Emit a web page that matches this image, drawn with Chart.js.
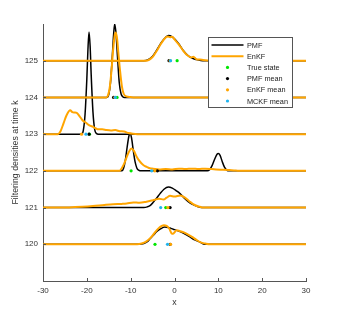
<!DOCTYPE html>
<html>
<head>
<meta charset="utf-8">
<script src="https://cdn.jsdelivr.net/npm/chart.js@4.4.1/dist/chart.umd.min.js"></script>
<style>
  html, body { margin: 0; padding: 0; background: #fff; }
  #chart { display: block; }
</style>
</head>
<body>
<canvas id="chart" width="339" height="316"></canvas>
<script>
// time steps (one ridge per step) and axis ticks
const steps = [125, 124, 123, 122, 121, 120];
const xTicks = [-30, -20, -10, 0, 10, 20, 30];
const yTicks = [120, 121, 122, 123, 124, 125];

// densities: [x, density] pairs, per time step
const pmf125 = [[-30,0],[-7,0],[-6,0.03],[-5,0.12],[-4,0.3],[-3,0.5],[-2,0.64],[-1.4,0.69],[-1,0.68],[0,0.6],[1,0.46],[2,0.28],[3,0.15],[4,0.07],[5,0.03],[6,0.005],[7,0],[30,0]];
const enkf125 = [[-30,0],[-6.5,0],[-5,0.1],[-4,0.28],[-3,0.48],[-2,0.63],[-1.5,0.66],[-1,0.64],[-0.5,0.65],[0,0.58],[1,0.44],[2,0.27],[3,0.14],[3.8,0.09],[4.3,0.11],[5,0.04],[5.8,0.03],[6.5,0.02],[8,0],[30,0]];

const pmf124 = [[-30,0],[-15.5,0],[-15,0.08],[-14.6,0.4],[-14.2,1.1],[-13.9,1.7],[-13.65,2.0],[-13.35,1.75],[-13,1.1],[-12.6,0.4],[-12.2,0.1],[-11.8,0.02],[-11.4,0],[30,0]];
const enkf124 = [[-30,0],[-15.6,0],[-15.2,0.05],[-14.8,0.25],[-14.4,0.7],[-14,1.3],[-13.6,1.72],[-13.4,1.77],[-13.1,1.6],[-12.8,1.2],[-12.4,0.7],[-12,0.3],[-11.6,0.1],[-11,0.03],[-10,0.01],[-9,0],[30,0]];

const pmf123 = [[-30,0],[-21.2,0],[-20.8,0.1],[-20.4,0.55],[-20,1.5],[-19.75,2.3],[-19.5,2.78],[-19.25,2.4],[-19,1.6],[-18.6,0.6],[-18.2,0.12],[-17.8,0.02],[-17.4,0],[30,0]];
const enkf123 = [[-30,0],[-26.6,0],[-26,0.08],[-25.3,0.3],[-24.6,0.52],[-23.8,0.65],[-23.3,0.6],[-22.8,0.59],[-22.3,0.58],[-21.6,0.48],[-21,0.38],[-20.4,0.33],[-19.8,0.27],[-19.3,0.23],[-18.6,0.2],[-18,0.16],[-17.4,0.13],[-16.5,0.13],[-15.5,0.11],[-14.5,0.1],[-13.5,0.11],[-12.5,0.08],[-11.5,0.07],[-10.5,0.03],[-9.5,0.01],[-8.5,0],[30,0]];

const pmf122 = [[-30,0],[-12,0],[-11.6,0.08],[-11.2,0.3],[-10.8,0.65],[-10.4,0.95],[-10.15,1.02],[-9.8,0.9],[-9.4,0.55],[-9,0.25],[-8.6,0.08],[-8.2,0.02],[-7.5,0],[7.5,0],[8,0.03],[8.6,0.15],[9.2,0.33],[9.7,0.45],[10,0.47],[10.4,0.42],[10.9,0.25],[11.4,0.1],[11.9,0.02],[12.5,0],[30,0]];
const enkf122 = [[-30,0],[-12.6,0],[-11.8,0.12],[-11.2,0.28],[-10.9,0.38],[-10.4,0.52],[-9.8,0.61],[-9.3,0.55],[-8.6,0.38],[-8,0.27],[-7.5,0.2],[-6.9,0.14],[-6.35,0.11],[-5.6,0.07],[-4.9,0.06],[-3.5,0.04],[-2,0.05],[-0.5,0.04],[1,0.06],[2.5,0.05],[4,0.06],[5.5,0.05],[7,0.06],[8.5,0.05],[9.5,0.04],[11,0.03],[12.5,0.02],[14,0.01],[15,0],[30,0]];

const pmf121 = [[-30,0],[-7,0],[-6.2,0.02],[-5.5,0.06],[-4.8,0.15],[-4,0.27],[-3.3,0.38],[-2.4,0.5],[-1.4,0.56],[-0.5,0.53],[0.5,0.45],[1.25,0.38],[2.3,0.25],[3.5,0.13],[4.6,0.06],[5.8,0.01],[6.5,0],[30,0]];
const enkf121 = [[-30,0],[-24,0.005],[-21,0.02],[-18.6,0.04],[-16,0.07],[-14,0.09],[-12,0.1],[-10.9,0.11],[-9.4,0.14],[-8,0.13],[-6.4,0.16],[-4.9,0.2],[-3.5,0.24],[-2.5,0.22],[-1.8,0.27],[-1,0.32],[0,0.3],[1.3,0.33],[2.3,0.28],[3.5,0.16],[4.6,0.07],[5.8,0.02],[6.6,0],[30,0]];

const pmf120 = [[-30,0],[-8,0],[-7,0.02],[-6.2,0.07],[-5.6,0.15],[-4.8,0.25],[-4.1,0.34],[-3.2,0.42],[-2.2,0.47],[-1.3,0.45],[-0.3,0.41],[0.5,0.38],[1.5,0.33],[2.5,0.27],[3.5,0.2],[4.6,0.12],[5.8,0.06],[6.6,0.01],[7.2,0],[30,0]];
const enkf120 = [[-30,0],[-8.5,0],[-7.5,0.02],[-6.5,0.07],[-5.6,0.16],[-4.6,0.3],[-3.6,0.44],[-2.9,0.5],[-2.4,0.52],[-1.8,0.5],[-1.2,0.43],[-0.6,0.29],[-0.2,0.3],[0.5,0.38],[1.2,0.36],[2,0.33],[3,0.27],[4,0.2],[5,0.12],[6,0.05],[7,0.02],[8,0],[30,0]];

const pmfRows = [pmf125, pmf124, pmf123, pmf122, pmf121, pmf120];
const enkfRows = [enkf125, enkf124, enkf123, enkf122, enkf121, enkf120];

// point estimates on each baseline, same order as steps
const trueState = [0.6, -13.1, -19.4, -9.9, -2.0, -4.45];
const pmfMean = [-1.25, -13.9, -19.5, -3.9, -1.0, -1.0];
const enkfMean = [-1.0, -13.6, -21.2, -4.5, -1.5, -0.9];
const mckfMean = [-0.9, -13.5, -20.2, -5.2, -3.15, -1.6];

const ORANGE = "#FFA500";
const FONT = "'Liberation Sans', Arial, sans-serif";

function ridge(rows) {
  return rows.map((row, i) => row.map(p => ({ x: p[0], y: steps[i] + p[1] })));
}

function baselinePoints(xs) {
  return xs.map((x, i) => ({ x: x, y: steps[i] }));
}

const datasets = [];

// markers first so they sit on top (Chart.js draws dataset 0 last)
[["MCKF mean", mckfMean, "#1EB4F0"],
 ["EnKF mean", enkfMean, ORANGE],
 ["PMF mean", pmfMean, "#000000"],
 ["True state", trueState, "#00E600"]].forEach(([label, xs, color]) => {
  datasets.push({
    label: label,
    data: baselinePoints(xs),
    showLine: false,
    pointRadius: 1.6,
    pointBorderWidth: 0,
    pointBackgroundColor: color,
    backgroundColor: color,
    borderColor: color,
    legendKind: "dot",
  });
});

ridge(enkfRows).forEach((pts, i) => {
  datasets.push({
    label: i === 0 ? "EnKF" : "",
    data: pts,
    showLine: true,
    borderColor: ORANGE,
    borderWidth: 2,
    pointRadius: 0,
    cubicInterpolationMode: "monotone",
    legendKind: i === 0 ? "line" : null,
  });
});

ridge(pmfRows).forEach((pts, i) => {
  datasets.push({
    label: i === 0 ? "PMF" : "",
    data: pts,
    showLine: true,
    borderColor: "#000000",
    borderWidth: 1.5,
    pointRadius: 0,
    cubicInterpolationMode: "monotone",
    legendKind: i === 0 ? "line" : null,
  });
});

// inward tick marks like the original figure
const innerTicks = {
  id: "innerTicks",
  afterDraw(chart) {
    const { ctx, chartArea, scales } = chart;
    ctx.save();
    ctx.strokeStyle = "#555";
    ctx.lineWidth = 1;
    ctx.beginPath();
    scales.x.ticks.forEach(t => {
      const px = Math.round(scales.x.getPixelForValue(t.value)) + 0.5;
      ctx.moveTo(px, chartArea.bottom);
      ctx.lineTo(px, chartArea.bottom - 3);
    });
    scales.y.ticks.forEach(t => {
      const py = Math.round(scales.y.getPixelForValue(t.value)) + 0.5;
      ctx.moveTo(chartArea.left, py);
      ctx.lineTo(chartArea.left + 3, py);
    });
    ctx.stroke();
    ctx.restore();
  },
};

// boxed legend in the upper right, built from the datasets
const boxLegend = {
  id: "boxLegend",
  afterDraw(chart) {
    const { ctx } = chart;
    const order = ["PMF", "EnKF", "True state", "PMF mean", "EnKF mean", "MCKF mean"];
    const items = order.map(name => chart.data.datasets.find(d => d.label === name));
    const left = 208.5, top = 37.5, w = 84, h = 70;
    ctx.save();
    ctx.fillStyle = "#fff";
    ctx.fillRect(left, top, w, h);
    ctx.strokeStyle = "#555";
    ctx.lineWidth = 1;
    ctx.strokeRect(left, top, w, h);
    ctx.font = "7.3px " + FONT;
    ctx.textBaseline = "middle";
    items.forEach((d, i) => {
      const y = top + 7.5 + i * 11.2;
      if (d.legendKind === "line") {
        ctx.strokeStyle = d.borderColor;
        ctx.lineWidth = d.borderWidth;
        ctx.beginPath();
        ctx.moveTo(left + 3, y);
        ctx.lineTo(left + 35, y);
        ctx.stroke();
      } else {
        ctx.fillStyle = d.pointBackgroundColor;
        ctx.beginPath();
        ctx.arc(left + 19, y, 1.6, 0, Math.PI * 2);
        ctx.fill();
      }
      ctx.fillStyle = "#222";
      ctx.fillText(d.label, left + 38.5, y + 0.5);
    });
    ctx.restore();
  },
};

new Chart(document.getElementById("chart"), {
  type: "scatter",
  data: { datasets: datasets },
  options: {
    responsive: false,
    animation: false,
    devicePixelRatio: 1,
    layout: { padding: { top: 24, right: 33, left: 0, bottom: 0 } },
    plugins: {
      legend: { display: false },
      tooltip: { enabled: false },
    },
    scales: {
      x: {
        type: "linear",
        min: -30,
        max: 30,
        afterBuildTicks: s => { s.ticks = xTicks.map(v => ({ value: v })); },
        afterFit: s => { s.height = 35; },
        grid: { display: false, drawTicks: false },
        border: { display: true, color: "#555", width: 1 },
        ticks: { padding: 5, color: "#333", font: { family: FONT, size: 8 } },
        title: { display: true, text: "x", color: "#333", padding: { top: 0, bottom: 8 }, font: { family: FONT, size: 8.8 } },
      },
      y: {
        type: "linear",
        min: 119,
        max: 126,
        afterBuildTicks: s => { s.ticks = yTicks.map(v => ({ value: v })); },
        afterFit: s => { s.width = 43; },
        grid: { display: false, drawTicks: false },
        border: { display: true, color: "#555", width: 1 },
        ticks: { padding: 5, color: "#333", font: { family: FONT, size: 8 } },
        title: { display: true, text: "Filtering densities at time k", color: "#333", padding: { top: 10, bottom: 0 }, font: { family: FONT, size: 8.8 } },
      },
    },
  },
  plugins: [innerTicks, boxLegend],
});
</script>
</body>
</html>
